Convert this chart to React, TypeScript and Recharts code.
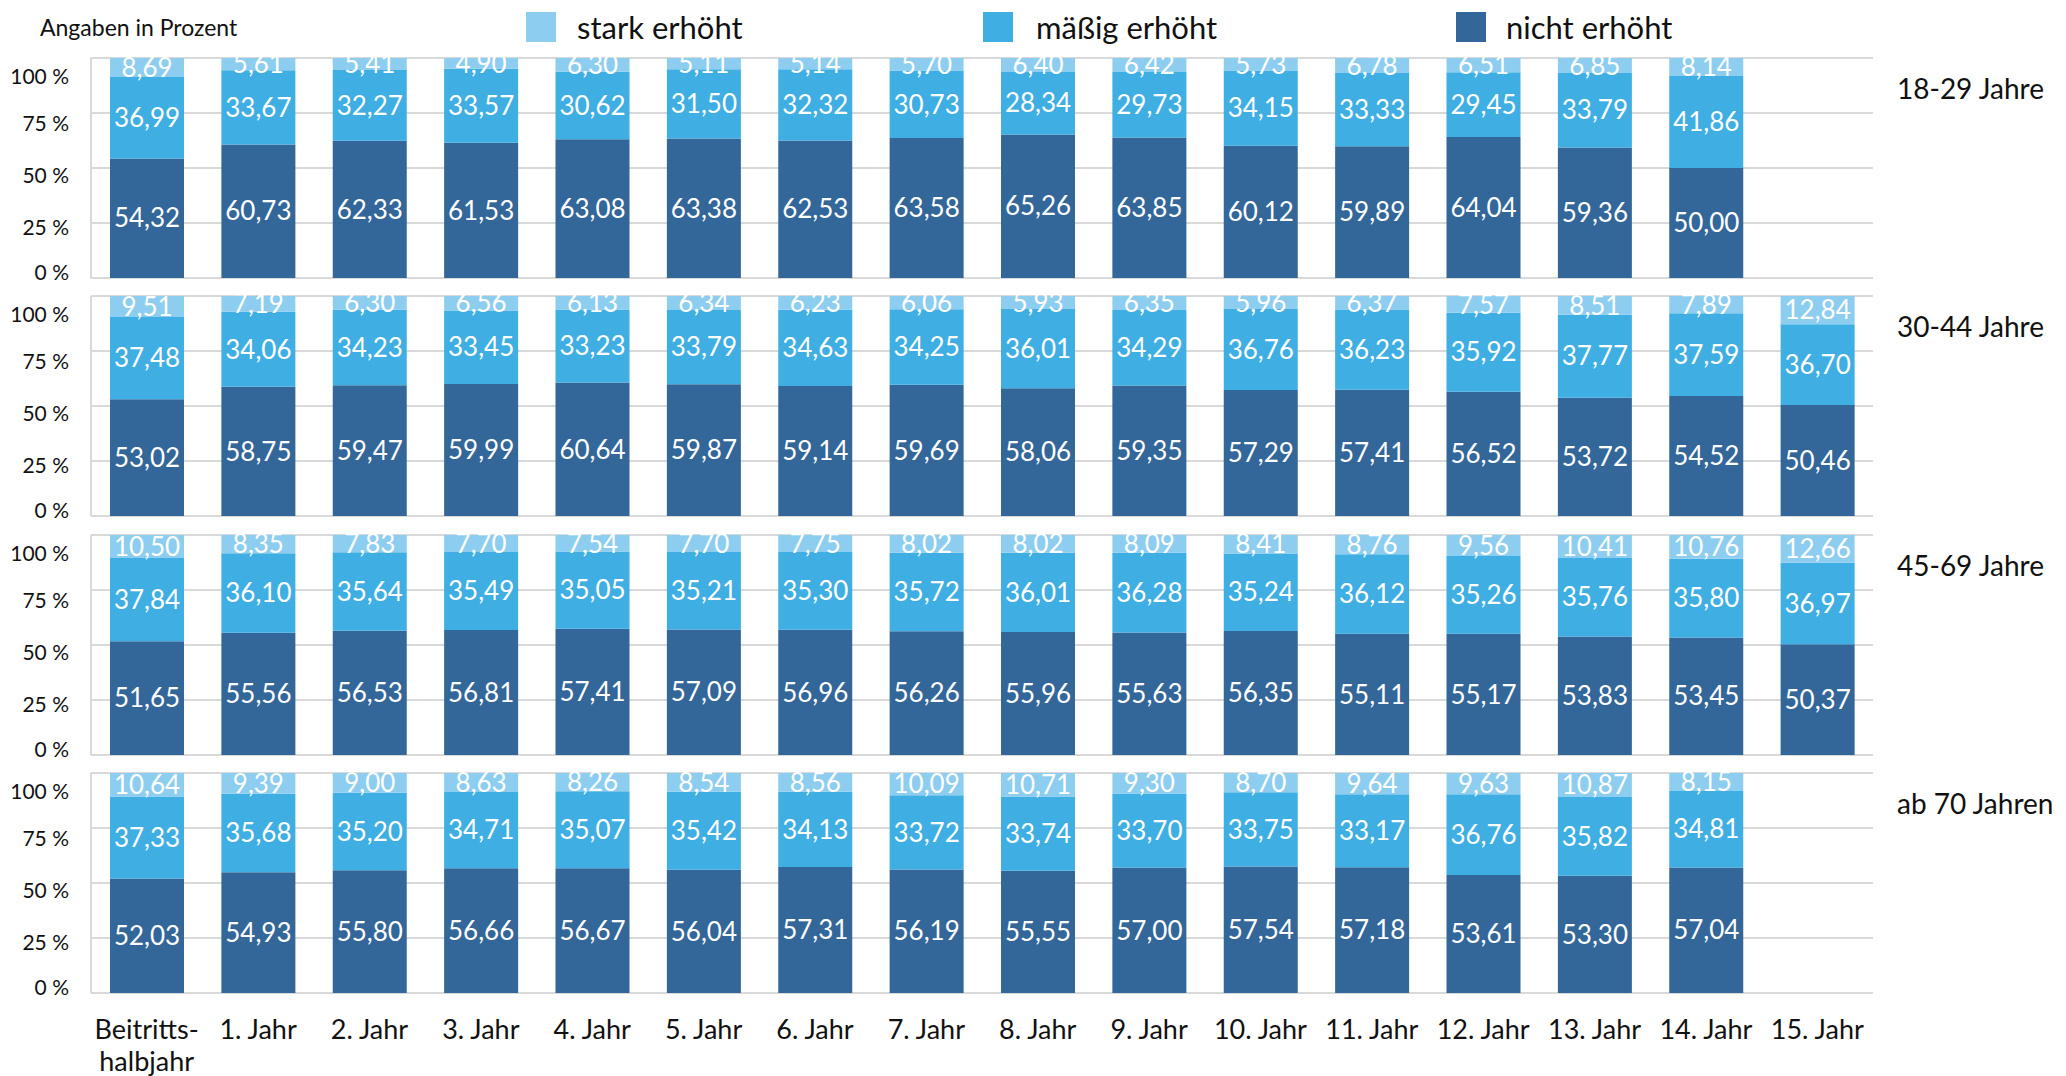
import React from 'react'
import { BarChart, Bar, XAxis, YAxis, CartesianGrid, LabelList } from 'recharts'

const FONT = 'Lato, "Open Sans", sans-serif'

const categories = [
  'Beitritts-\nhalbjahr', '1. Jahr', '2. Jahr', '3. Jahr', '4. Jahr', '5. Jahr', '6. Jahr', '7. Jahr',
  '8. Jahr', '9. Jahr', '10. Jahr', '11. Jahr', '12. Jahr', '13. Jahr', '14. Jahr', '15. Jahr',
]
const yTicks = [0, 25, 50, 75, 100]

// 18-29 Jahre
const stark1829 = [8.69, 5.61, 5.41, 4.9, 6.3, 5.11, 5.14, 5.7, 6.4, 6.42, 5.73, 6.78, 6.51, 6.85, 8.14, null]
const maessig1829 = [36.99, 33.67, 32.27, 33.57, 30.62, 31.5, 32.32, 30.73, 28.34, 29.73, 34.15, 33.33, 29.45, 33.79, 41.86, null]
const nicht1829 = [54.32, 60.73, 62.33, 61.53, 63.08, 63.38, 62.53, 63.58, 65.26, 63.85, 60.12, 59.89, 64.04, 59.36, 50.0, null]

// 30-44 Jahre
const stark3044 = [9.51, 7.19, 6.3, 6.56, 6.13, 6.34, 6.23, 6.06, 5.93, 6.35, 5.96, 6.37, 7.57, 8.51, 7.89, 12.84]
const maessig3044 = [37.48, 34.06, 34.23, 33.45, 33.23, 33.79, 34.63, 34.25, 36.01, 34.29, 36.76, 36.23, 35.92, 37.77, 37.59, 36.7]
const nicht3044 = [53.02, 58.75, 59.47, 59.99, 60.64, 59.87, 59.14, 59.69, 58.06, 59.35, 57.29, 57.41, 56.52, 53.72, 54.52, 50.46]

// 45-69 Jahre
const stark4569 = [10.5, 8.35, 7.83, 7.7, 7.54, 7.7, 7.75, 8.02, 8.02, 8.09, 8.41, 8.76, 9.56, 10.41, 10.76, 12.66]
const maessig4569 = [37.84, 36.1, 35.64, 35.49, 35.05, 35.21, 35.3, 35.72, 36.01, 36.28, 35.24, 36.12, 35.26, 35.76, 35.8, 36.97]
const nicht4569 = [51.65, 55.56, 56.53, 56.81, 57.41, 57.09, 56.96, 56.26, 55.96, 55.63, 56.35, 55.11, 55.17, 53.83, 53.45, 50.37]

// ab 70 Jahren
const stark70 = [10.64, 9.39, 9.0, 8.63, 8.26, 8.54, 8.56, 10.09, 10.71, 9.3, 8.7, 9.64, 9.63, 10.87, 8.15, null]
const maessig70 = [37.33, 35.68, 35.2, 34.71, 35.07, 35.42, 34.13, 33.72, 33.74, 33.7, 33.75, 33.17, 36.76, 35.82, 34.81, null]
const nicht70 = [52.03, 54.93, 55.8, 56.66, 56.67, 56.04, 57.31, 56.19, 55.55, 57.0, 57.54, 57.18, 53.61, 53.3, 57.04, null]

const panels = [
  { name: '18-29 Jahre', stark: stark1829, maessig: maessig1829, nicht: nicht1829 },
  { name: '30-44 Jahre', stark: stark3044, maessig: maessig3044, nicht: nicht3044 },
  { name: '45-69 Jahre', stark: stark4569, maessig: maessig4569, nicht: nicht4569 },
  { name: 'ab 70 Jahren', stark: stark70, maessig: maessig70, nicht: nicht70 },
]

const COLORS = { stark: '#8DCDF0', maessig: '#3FAEE3', nicht: '#336699' }
const legendItems = [
  { label: 'stark erhöht', color: COLORS.stark, left: 526, textLeft: 577 },
  { label: 'mäßig erhöht', color: COLORS.maessig, left: 983, textLeft: 1036 },
  { label: 'nicht erhöht', color: COLORS.nicht, left: 1456, textLeft: 1506 },
]

const PANEL_TOPS = [58, 296, 535, 773]
const PLOT_H = 220
const TOP_PAD = 10
const BOTTOM_PAD = 14

// the original's axis labels sit a bit off their gridlines
const tickShift: Record<number, number> = { 100: 17, 75: 9, 50: 6, 25: 3, 0: -7 }

const fmt = (v: any) => (v == null ? '' : Number(v).toFixed(2).replace('.', ','))

const CategoryTick = ({ x, y, payload }: any) => {
  const lines = String(payload.value).split('\n')
  return (
    <text x={x} y={y} textAnchor="middle" fill="#111" fontSize={27} fontFamily={FONT}>
      {lines.map((l, i) => (
        <tspan key={i} x={x} dy={i === 0 ? 38 : 32}>{l}</tspan>
      ))}
    </text>
  )
}

const PercentTick = ({ x, y, payload }: any) => (
  <text
    x={x}
    y={y + (tickShift[payload.value] ?? 0)}
    textAnchor="end"
    dominantBaseline="central"
    fill="#111"
    fontSize={21}
    fontFamily={FONT}
  >
    {`${payload.value} %`}
  </text>
)

function Panel({ panel, top, last }: { panel: typeof panels[number]; top: number; last: boolean }) {
  const rows = categories.map((c, i) => ({
    category: c,
    stark: panel.stark[i],
    maessig: panel.maessig[i],
    nicht: panel.nicht[i],
  }))
  const xH = last ? 90 : 0
  const bottom = last ? 0 : BOTTOM_PAD
  return (
    <div style={{ position: 'absolute', left: 0, top: top - TOP_PAD }}>
      <BarChart
        width={1880}
        height={TOP_PAD + PLOT_H + xH + bottom}
        data={rows}
        margin={{ top: TOP_PAD, right: 7, left: 0, bottom }}
        style={{ fontFamily: FONT }}
      >
        <CartesianGrid vertical={false} stroke="#d9d9d9" strokeWidth={2} />
        <XAxis
          dataKey="category"
          hide={!last}
          height={xH}
          interval={0}
          axisLine={false}
          tickLine={false}
          tick={<CategoryTick />}
        />
        <YAxis
          width={91}
          domain={[0, 100]}
          ticks={yTicks}
          allowDataOverflow
          axisLine={{ stroke: '#d9d9d9', strokeWidth: 2 }}
          tickLine={false}
          tickMargin={16}
          tick={<PercentTick />}
        />
        <Bar dataKey="nicht" stackId="a" fill={COLORS.nicht} barSize={74} isAnimationActive={false}>
          <LabelList dataKey="nicht" position="center" fill="#fff" fontSize={26} fontFamily={FONT} formatter={fmt} />
        </Bar>
        <Bar dataKey="maessig" stackId="a" fill={COLORS.maessig} barSize={74} isAnimationActive={false}>
          <LabelList dataKey="maessig" position="center" fill="#fff" fontSize={26} fontFamily={FONT} formatter={fmt} />
        </Bar>
        <Bar dataKey="stark" stackId="a" fill={COLORS.stark} barSize={74} isAnimationActive={false}>
          <LabelList dataKey="stark" position="center" fill="#fff" fontSize={26} fontFamily={FONT} formatter={fmt} />
        </Bar>
      </BarChart>
      <div
        style={{
          position: 'absolute',
          left: 1897,
          top: TOP_PAD + 30,
          transform: 'translateY(-50%)',
          fontSize: 28,
          color: '#111',
          whiteSpace: 'nowrap',
        }}
      >
        {panel.name}
      </div>
    </div>
  )
}

export default function App() {
  return (
    <div
      style={{
        position: 'fixed',
        left: 0,
        top: 0,
        width: 2066,
        height: 1076,
        background: '#fff',
        overflow: 'hidden',
        fontFamily: FONT,
      }}
    >
      <div style={{ position: 'absolute', left: 40, top: 27, transform: 'translateY(-50%)', fontSize: 23, color: '#111' }}>
        Angaben in Prozent
      </div>
      {legendItems.map((it) => (
        <React.Fragment key={it.label}>
          <div style={{ position: 'absolute', left: it.left, top: 12, width: 30, height: 30, background: it.color }} />
          <div
            style={{
              position: 'absolute',
              left: it.textLeft,
              top: 27,
              transform: 'translateY(-50%)',
              fontSize: 31,
              color: '#111',
              whiteSpace: 'nowrap',
            }}
          >
            {it.label}
          </div>
        </React.Fragment>
      ))}
      {panels.map((p, i) => (
        <Panel key={p.name} panel={p} top={PANEL_TOPS[i]} last={i === panels.length - 1} />
      ))}
    </div>
  )
}
